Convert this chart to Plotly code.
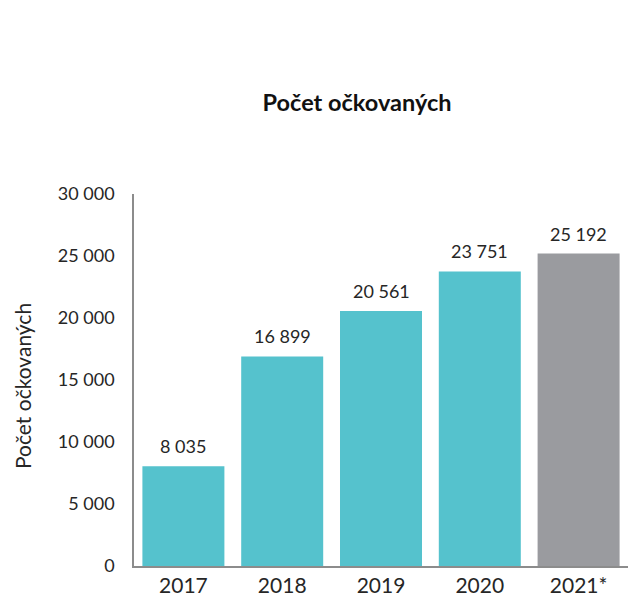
import plotly.graph_objects as go

# Vaccinated counts per year
years = ["2017", "2018", "2019", "2020", "2021*"]
vaccinated = [8035, 16899, 20561, 23751, 25192]
bar_colors = ["#55C2CD", "#55C2CD", "#55C2CD", "#55C2CD", "#9A9B9F"]
y_ticks = [0, 5000, 10000, 15000, 20000, 25000, 30000]

FONT = "Lato"
TEXT = "#262626"

fig = go.Figure(
    go.Bar(
        x=years,
        y=vaccinated,
        marker=dict(color=bar_colors, line=dict(width=0)),
        hoverinfo="skip",
    )
)

# Value labels above each bar (positioned by category index)
for i, v in enumerate(vaccinated):
    fig.add_annotation(
        x=i, y=v, xref="x", yref="y", text=f"{v:,}".replace(",", " "),
        showarrow=False, yshift=20,
        font=dict(family=FONT, size=18, color=TEXT),
    )

# Rotated y-axis title
fig.add_annotation(
    xref="paper", yref="paper", x=(22 - 134) / 494, y=(566 - 386) / 372,
    xanchor="center", yanchor="middle",
    text="Počet očkovaných", textangle=-90, showarrow=False,
    font=dict(family=FONT, size=21, color=TEXT),
)

fig.update_layout(
    width=628, height=610,
    margin=dict(l=134, r=0, t=194, b=44),
    paper_bgcolor="white", plot_bgcolor="white",
    separators=". ",
    bargap=0.17,
    showlegend=False,
    title=dict(
        text="<b>Počet očkovaných</b>",
        x=357 / 628, xanchor="center", y=1 - 103 / 610, yanchor="middle",
        font=dict(family=FONT, size=23.5, color="#111111"),
    ),
    xaxis=dict(
        type="category",
        categoryorder="array", categoryarray=years,
        showline=True, linecolor="#8C8C8C", linewidth=1.5,
        showgrid=False, ticks="",
        tickfont=dict(family=FONT, size=21, color=TEXT),
    ),
    yaxis=dict(
        range=[0, 30000], tickvals=y_ticks, tickformat=",d",
        showline=True, linecolor="#8C8C8C", linewidth=1.5,
        showgrid=False, ticks="", zeroline=False,
        tickfont=dict(family=FONT, size=18, color=TEXT),
        ticklabelstandoff=14,
    ),
)

fig.write_html("out.html")
